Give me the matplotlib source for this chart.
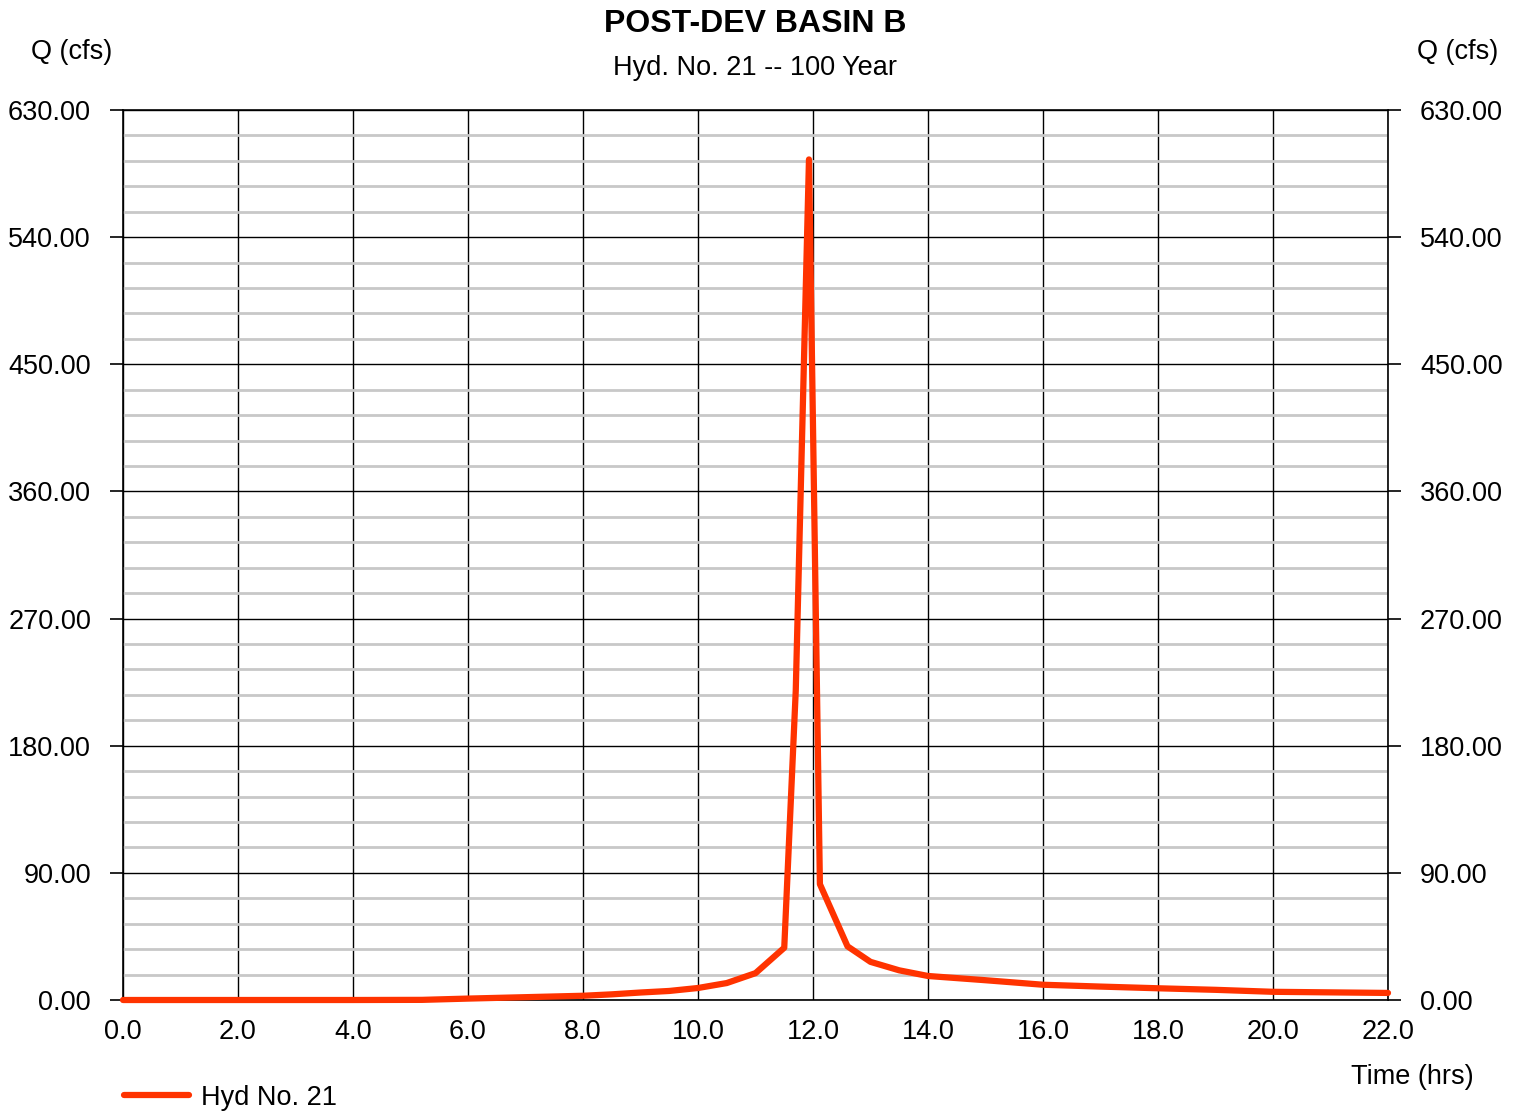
import matplotlib
matplotlib.use("Agg")
import matplotlib.pyplot as plt
import numpy as np
from matplotlib.ticker import MultipleLocator, FormatStrFormatter

plt.rcParams["font.family"] = ["Liberation Sans", "DejaVu Sans"]

# Hydrograph (time in hrs, Q in cfs)
time_hrs = [0.0, 2.0, 4.0, 5.2, 6.0, 7.0, 8.0, 8.5, 9.0, 9.5, 10.0, 10.5,
            11.0, 11.5, 11.7, 11.93, 12.12, 12.6, 13.0, 13.5, 14.0, 15.0,
            16.0, 17.0, 18.0, 19.0, 20.0, 21.0, 22.0]
flow_cfs = [0.0, 0.0, 0.0, 0.1, 1.0, 2.0, 3.0, 4.0, 5.3, 6.4, 8.5, 12.0,
            19.0, 37.0, 219.0, 595.0, 82.0, 38.0, 27.0, 21.0, 17.0, 14.0,
            10.8, 9.5, 8.3, 7.2, 5.8, 5.4, 5.0]

x_ticks = np.arange(0, 22.1, 2.0)
y_ticks = np.arange(0, 631, 90)

fs = 19.5

fig = plt.figure(figsize=(15.18, 11.12), dpi=100)
ax = fig.add_axes([123 / 1518, 1 - 1000 / 1112, 1265 / 1518, 890 / 1112])

ax.set_xlim(0, 22)
ax.set_ylim(0, 630)

# grid: minor grey every 18 cfs, major black every 90 cfs / 2 hrs
ax.yaxis.set_minor_locator(MultipleLocator(18))
ax.grid(True, which="minor", axis="y", color="#c8c8c8", linewidth=2.0, zorder=0)
ax.grid(True, which="major", axis="y", color="black", linewidth=1.0, zorder=1)
ax.grid(True, which="major", axis="x", color="black", linewidth=1.0, zorder=1)
ax.set_axisbelow(True)

ax.plot(time_hrs, flow_cfs, color="#ff3300", linewidth=4.5,
        solid_capstyle="round", solid_joinstyle="round", clip_on=False, zorder=5)

ax.set_xticks(x_ticks)
ax.set_yticks(y_ticks)
ax.xaxis.set_major_formatter(FormatStrFormatter("%.1f"))
ax.yaxis.set_major_formatter(FormatStrFormatter("%.2f"))
ax.tick_params(axis="x", length=0, pad=14, labelsize=fs)
ax.tick_params(axis="y", which="major", direction="out", length=9.5, width=1.2,
               labelsize=fs, pad=13.5, left=True, right=True,
               labelleft=True, labelright=True)
ax.tick_params(axis="y", which="minor", length=0)

for side in ["top", "bottom", "left", "right"]:
    ax.spines[side].set_color("black")
    ax.spines[side].set_linewidth(1.2)

fig.text(755 / 1518, 1 - 24 / 1112, "POST-DEV BASIN B", ha="center", va="center",
         fontsize=23, fontweight="bold")
fig.text(755 / 1518, 1 - 68 / 1112, "Hyd. No. 21 -- 100 Year", ha="center",
         va="center", fontsize=fs)
fig.text(72 / 1518, 1 - 52 / 1112, "Q (cfs)", ha="center", va="center", fontsize=fs)
fig.text(1458 / 1518, 1 - 52 / 1112, "Q (cfs)", ha="center", va="center", fontsize=fs)
fig.text(1412 / 1518, 1 - 1077 / 1112, "Time (hrs)", ha="center", va="center",
         fontsize=fs)

leg = ax.legend(["Hyd No. 21"], loc="upper left", bbox_to_anchor=(-0.008, -0.083),
                frameon=False, fontsize=fs, handlelength=2.4, handletextpad=0.45,
                borderaxespad=0)

fig.savefig("out.png", dpi=100)
